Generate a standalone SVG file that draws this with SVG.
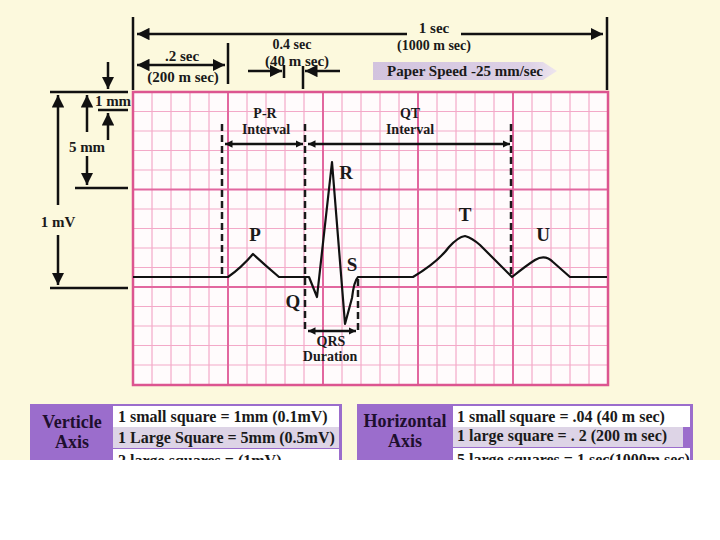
<svg xmlns="http://www.w3.org/2000/svg" width="720" height="540" viewBox="0 0 720 540">
<defs>
<style>
.t{font-family:"Liberation Serif","DejaVu Serif",serif;font-weight:bold;fill:#1a1a1a}
.lab{font-size:19px}
.sm{font-size:15px}
.xs{font-size:14px}
.leg{font-size:16px}
.head{font-size:18px;fill:#1e0f2e}
.ln{stroke:#111;stroke-width:2.5;fill:none}
.dash{stroke:#1a1a1a;stroke-width:2.5;stroke-dasharray:7 4;fill:none}
.minor{stroke:#f3a9c8;stroke-width:1.2;fill:none}
.major{stroke:#e2679f;stroke-width:2;fill:none}
</style>
<marker id="ah" viewBox="0 0 10 10" refX="10" refY="5" markerWidth="5" markerHeight="5" orient="auto-start-reverse" markerUnits="strokeWidth">
<path d="M0,0 L10,5 L0,10 z" fill="#111"/>
</marker>
<marker id="as" viewBox="0 0 10 10" refX="10" refY="5" markerWidth="3" markerHeight="3" orient="auto-start-reverse" markerUnits="strokeWidth">
<path d="M0,0 L10,5 L0,10 z" fill="#111"/>
</marker>
<linearGradient id="ps" x1="0" y1="0" x2="1" y2="0">
<stop offset="0" stop-color="#d2c3de"/>
<stop offset="0.85" stop-color="#ddd1e6"/>
<stop offset="1" stop-color="#eee6ee"/>
</linearGradient>
<clipPath id="cut"><rect x="0" y="0" width="720" height="460"/></clipPath>
</defs>

<rect x="0" y="0" width="720" height="540" fill="#ffffff"/>
<rect x="0" y="0" width="720" height="460" fill="#fcf9dd"/>

<g id="grid">
<rect x="133" y="92" width="475" height="293" fill="#fffbfc"/>
<path class="minor" d="M152,92V385M171,92V385M190,92V385M209,92V385M247,92V385M266,92V385M285,92V385M304,92V385M342,92V385M361,92V385M380,92V385M399,92V385M437,92V385M456,92V385M475,92V385M494,92V385M532,92V385M551,92V385M570,92V385M589,92V385"/>
<path class="minor" d="M133,111.5H608M133,131H608M133,150.5H608M133,170H608M133,209H608M133,228.5H608M133,248H608M133,267.5H608M133,306.5H608M133,326H608M133,345.5H608M133,365H608"/>
<path class="major" d="M228,92V385M323,92V385M418,92V385M513,92V385M133,189.5H608M133,287H608"/>
<rect x="133" y="92" width="475" height="293" fill="none" stroke="#dc5590" stroke-width="2.5"/>
</g>

<g id="top-annotations">
<path class="ln" d="M133,17V90M607,17V90" stroke-width="3"/>
<path class="ln" d="M137,34H407" marker-start="url(#ah)"/>
<path class="ln" d="M461,34H603" marker-end="url(#ah)"/>
<text class="t" x="434" y="33" font-size="15" text-anchor="middle">1 sec</text>
<text class="t xs" x="434" y="50" text-anchor="middle">(1000 m sec)</text>
<path class="ln" d="M228,43V84"/>
<path class="ln" d="M137,65H225" marker-start="url(#ah)" marker-end="url(#ah)"/>
<text class="t sm" x="182" y="61" text-anchor="middle">.2 sec</text>
<text class="t sm" x="183" y="82" text-anchor="middle">(200 m sec)</text>
<text class="t xs" x="292" y="49" text-anchor="middle">0.4 sec</text>
<text class="t sm" x="297" y="66" text-anchor="middle">(40 m sec)</text>
<path class="ln" d="M284,65V78M303,66V89"/>
<path class="ln" d="M248,71H282" marker-end="url(#ah)"/>
<path class="ln" d="M340,71H305" marker-end="url(#ah)"/>
<path d="M373,62H543L557,71L543,80H373z" fill="url(#ps)"/>
<text class="t sm" x="465" y="76" text-anchor="middle" fill="#2a2030">Paper Speed -25 mm/sec</text>
</g>

<g id="left-annotations">
<path class="ln" d="M50,92H128M98,110H128M75,188H128M50,288H128"/>
<path class="ln" d="M108,62V89" marker-end="url(#ah)"/>
<path class="ln" d="M108,140V113" marker-end="url(#ah)"/>
<text class="t sm" x="113" y="106" text-anchor="middle">1 mm</text>
<path class="ln" d="M87,132V95" marker-end="url(#ah)"/>
<text class="t sm" x="87" y="152" text-anchor="middle">5 mm</text>
<path class="ln" d="M87,156V185" marker-end="url(#ah)"/>
<path class="ln" d="M58,205V95" marker-end="url(#ah)"/>
<text class="t sm" x="58" y="227" text-anchor="middle">1 mV</text>
<path class="ln" d="M58,235V285" marker-end="url(#ah)"/>
</g>

<g id="ecg">
<path d="M133,277H228Q241,268 253,254Q266,266 279,277H309L317,297L332,162L345,324L352,298Q354,281 358,277H413Q438,262 449,247Q458,237 465,236Q472,238 480,245L512,277Q527,265 535,260Q545,254 553,262L570,277H607" fill="none" stroke="#111" stroke-width="2.2" stroke-linejoin="round"/>
</g>

<g id="connectors">
<path class="dash" d="M222,124V277"/>
<path class="dash" d="M305,124V333"/>
<path class="dash" d="M511,124V277"/>
<path class="dash" d="M358,279V333"/>
<path class="ln" d="M225,144H303" stroke-width="2" marker-start="url(#as)" marker-end="url(#as)"/>
<path class="ln" d="M308,144H510" stroke-width="2" marker-start="url(#as)" marker-end="url(#as)"/>
<path class="ln" d="M308,331H356" stroke-width="2" marker-start="url(#as)" marker-end="url(#as)"/>
</g>

<g id="labels">
<text class="t xs" x="265" y="118" text-anchor="middle">P-R</text>
<text class="t xs" x="266" y="134" text-anchor="middle">Interval</text>
<text class="t xs" x="410" y="118" text-anchor="middle">QT</text>
<text class="t xs" x="410" y="134" text-anchor="middle">Interval</text>
<text class="t xs" x="331" y="346" text-anchor="middle">QRS</text>
<text class="t xs" x="330" y="361" text-anchor="middle">Duration</text>
<text class="t lab" x="255" y="241" text-anchor="middle">P</text>
<text class="t lab" x="346" y="179" text-anchor="middle">R</text>
<text class="t lab" x="352" y="271" text-anchor="middle">S</text>
<text class="t lab" x="293" y="308" text-anchor="middle">Q</text>
<text class="t lab" x="465" y="221" text-anchor="middle">T</text>
<text class="t lab" x="543" y="241" text-anchor="middle">U</text>
</g>

<g id="vertical-legend" clip-path="url(#cut)">
<rect x="30" y="404" width="312" height="70" fill="#9b6dcc"/>
<rect x="113" y="406" width="226" height="21" fill="#ffffff"/>
<rect x="113" y="427" width="226" height="21" fill="#ddd4e6"/>
<rect x="113" y="449" width="226" height="25" fill="#ffffff"/>
<text class="t head" x="72" y="428" text-anchor="middle">Verticle</text>
<text class="t head" x="72" y="448" text-anchor="middle">Axis</text>
<text class="t leg" x="118" y="422">1 small square = 1mm (0.1mV)</text>
<text class="t leg" x="118" y="443">1 Large Square = 5mm (0.5mV)</text>
<text class="t leg" x="118" y="466">2 large squares = (1mV)</text>
</g>

<g id="horizontal-legend" clip-path="url(#cut)">
<rect x="357" y="404" width="336" height="70" fill="#9b6dcc"/>
<rect x="453" y="406" width="237" height="21" fill="#ffffff"/>
<rect x="453" y="427" width="230" height="20" fill="#ddd4e6"/>
<rect x="453" y="448" width="237" height="26" fill="#ffffff"/>
<text class="t head" x="405" y="427" text-anchor="middle">Horizontal</text>
<text class="t head" x="405" y="447" text-anchor="middle">Axis</text>
<text class="t leg" x="457" y="422">1 small square = .04 (40 m sec)</text>
<text class="t leg" x="457" y="441">1 large square = . 2 (200 m sec)</text>
<text class="t leg" x="457" y="465">5 large squares = 1 sec(1000m sec)</text>
</g>
</svg>
